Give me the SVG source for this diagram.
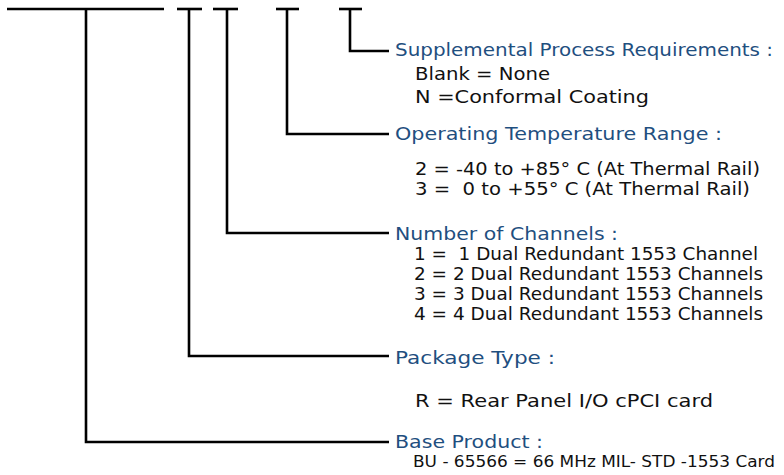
<svg xmlns="http://www.w3.org/2000/svg" width="784" height="475" viewBox="0 0 784 475">
<style>
  .bg { fill: #ffffff; }
  .ln { fill: none; stroke: #000000; stroke-width: 2.6; stroke-linejoin: miter; }
  .title { font-family: "DejaVu Sans", "Liberation Sans", sans-serif; font-size: 17.5px; fill: #1f4f7f; white-space: pre; }
  .body { font-family: "DejaVu Sans", "Liberation Sans", sans-serif; font-size: 17.5px; fill: #111111; white-space: pre; }
  .small { font-size: 16.5px; }
</style>
<rect class="bg" x="0" y="0" width="784" height="475"/>
<g id="connectors">
  <path class="ln" d="M7,9 H164"/>
  <path class="ln" d="M86,9 V442 H389"/>
  <path class="ln" d="M177,9 H202"/>
  <path class="ln" d="M189,9 V356 H389"/>
  <path class="ln" d="M213,9 H238"/>
  <path class="ln" d="M227,9 V233 H389"/>
  <path class="ln" d="M276,9 H299"/>
  <path class="ln" d="M287,9 V134 H389"/>
  <path class="ln" d="M339,9 H362"/>
  <path class="ln" d="M350,9 V51 H389"/>
</g>
<g id="supplemental">
  <text class="title" x="395" y="56" textLength="378" lengthAdjust="spacingAndGlyphs">Supplemental Process Requirements :</text>
  <text class="body" x="415" y="80" textLength="135" lengthAdjust="spacingAndGlyphs">Blank = None</text>
  <text class="body" x="415" y="103" textLength="234" lengthAdjust="spacingAndGlyphs">N =Conformal Coating</text>
</g>
<g id="temperature">
  <text class="title" x="395" y="140" textLength="327" lengthAdjust="spacingAndGlyphs">Operating Temperature Range :</text>
  <text class="body" x="415" y="175" textLength="345" lengthAdjust="spacingAndGlyphs">2 = -40 to +85° C (At Thermal Rail)</text>
  <text class="body" x="415" y="195" textLength="335" lengthAdjust="spacingAndGlyphs">3 =  0 to +55° C (At Thermal Rail)</text>
</g>
<g id="channels">
  <text class="title" x="395" y="240" textLength="223" lengthAdjust="spacingAndGlyphs">Number of Channels :</text>
  <text class="body" x="414" y="260" textLength="344" lengthAdjust="spacingAndGlyphs">1 =  1 Dual Redundant 1553 Channel</text>
  <text class="body" x="414" y="280" textLength="349" lengthAdjust="spacingAndGlyphs">2 = 2 Dual Redundant 1553 Channels</text>
  <text class="body" x="414" y="300" textLength="349" lengthAdjust="spacingAndGlyphs">3 = 3 Dual Redundant 1553 Channels</text>
  <text class="body" x="414" y="320" textLength="349" lengthAdjust="spacingAndGlyphs">4 = 4 Dual Redundant 1553 Channels</text>
</g>
<g id="package">
  <text class="title" x="395" y="364" textLength="160" lengthAdjust="spacingAndGlyphs">Package Type :</text>
  <text class="body" x="415" y="407" textLength="298" lengthAdjust="spacingAndGlyphs">R = Rear Panel I/O cPCI card</text>
</g>
<g id="base">
  <text class="title" x="395" y="448" textLength="148" lengthAdjust="spacingAndGlyphs">Base Product :</text>
  <text class="body small" x="413" y="467" textLength="362" lengthAdjust="spacingAndGlyphs">BU - 65566 = 66 MHz MIL- STD -1553 Card</text>
</g>
</svg>
